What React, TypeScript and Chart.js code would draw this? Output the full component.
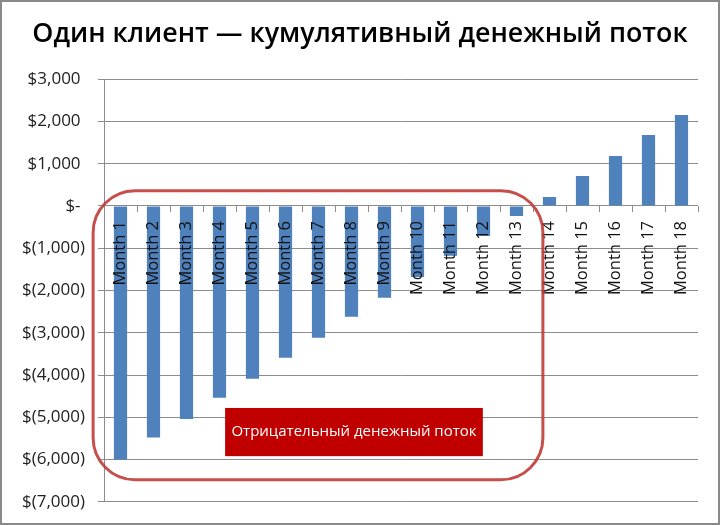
import { useEffect, useRef } from "react"
import { Chart, registerables } from "chart.js"

Chart.register(...registerables)

// Chart data
const months = [
  "Month 1", "Month 2", "Month 3", "Month 4", "Month 5", "Month 6",
  "Month 7", "Month 8", "Month 9", "Month 10", "Month 11", "Month 12",
  "Month 13", "Month 14", "Month 15", "Month 16", "Month 17", "Month 18",
]
const cumulativeCash = [
  -6000, -5480, -5040, -4540, -4090, -3590, -3120, -2620, -2170,
  -1680, -1180, -710, -240, 210, 710, 1180, 1680, 2150,
]
const chartTitle = "Один клиент — кумулятивный денежный поток"
const calloutText = "Отрицательный денежный поток"

// Annotation placement in data units (category index / dollars)
const zone = { x0: -0.83, x1: 12.8, yTop: 360, yBottom: -6480 }
const callout = { x0: 3.17, x1: 10.98, yTop: -4780, yBottom: -5920 }

const GRID = "#8c8c8c"

// Excel-style accounting labels: $3,000 / $- / $(1,000)
function accounting(v: number) {
  if (v === 0) return "$- "
  const abs = Math.abs(v).toLocaleString("en-US")
  return v < 0 ? `$(${abs})` : `$${abs} `
}

const annotationPlugin = {
  id: "annotations",
  beforeDraw(chart: Chart) {
    const { ctx, width, height } = chart
    ctx.save()
    ctx.fillStyle = "#ffffff"
    ctx.fillRect(0, 0, width, height)
    ctx.restore()
  },
  afterDraw(chart: Chart) {
    const { ctx, width, height } = chart
    const x = chart.scales.x
    const y = chart.scales.y
    ctx.save()

    // negative cash flow region
    const zx0 = x.getPixelForValue(zone.x0)
    const zx1 = x.getPixelForValue(zone.x1)
    const zy0 = y.getPixelForValue(zone.yTop)
    const zy1 = y.getPixelForValue(zone.yBottom)
    ctx.strokeStyle = "rgba(192, 60, 57, 0.9)"
    ctx.lineWidth = 3
    ctx.beginPath()
    ctx.roundRect(zx0, zy0, zx1 - zx0, zy1 - zy0, 42)
    ctx.stroke()

    // callout box
    const cx0 = x.getPixelForValue(callout.x0)
    const cx1 = x.getPixelForValue(callout.x1)
    const cy0 = y.getPixelForValue(callout.yTop)
    const cy1 = y.getPixelForValue(callout.yBottom)
    ctx.fillStyle = "#c00000"
    ctx.fillRect(cx0, cy0, cx1 - cx0, cy1 - cy0)
    ctx.fillStyle = "#ffffff"
    ctx.font = "500 15px 'Open Sans'"
    ctx.textAlign = "center"
    ctx.textBaseline = "middle"
    ctx.fillText(calloutText, (cx0 + cx1) / 2, (cy0 + cy1) / 2)

    // outer frame
    ctx.strokeStyle = "#8a8a8a"
    ctx.lineWidth = 2
    ctx.strokeRect(1, 1, width - 2, height - 2)
    ctx.restore()
  },
}

export default function App() {
  const canvasRef = useRef<HTMLCanvasElement>(null)
  const chartRef = useRef<Chart | null>(null)

  useEffect(() => {
    if (!canvasRef.current) return
    if (chartRef.current) chartRef.current.destroy()

    chartRef.current = new Chart(canvasRef.current, {
      type: "bar",
      data: {
        labels: months,
        datasets: [
          {
            data: cumulativeCash,
            backgroundColor: "#4f81bd",
            borderWidth: 0,
            categoryPercentage: 1,
            barPercentage: 0.4,
          },
        ],
      },
      options: {
        responsive: true,
        maintainAspectRatio: false,
        animation: false,
        layout: { padding: { left: 22, right: 22, top: 0, bottom: 23 } },
        plugins: {
          legend: { display: false },
          tooltip: { enabled: false },
          title: {
            display: true,
            text: chartTitle,
            color: "#000000",
            font: { family: "'Open Sans'", size: 26.8, weight: 600, lineHeight: 1.2 },
            padding: { top: 18, bottom: 29 },
          },
        },
        scales: {
          x: {
            type: "category",
            position: { y: 0 },
            offset: true,
            grid: {
              offset: true,
              drawOnChartArea: false,
              drawTicks: true,
              tickLength: 6,
              color: GRID,
              z: 1,
            },
            border: { display: true, color: GRID },
            ticks: {
              z: 2,
              autoSkip: false,
              minRotation: 90,
              maxRotation: 90,
              padding: 9,
              color: "#111111",
              font: { family: "'Open Sans'", size: 16.5 },
            },
          },
          y: {
            min: -7000,
            max: 3000,
            afterFit(scale) {
              scale.width = 82
            },
            grid: { color: GRID, drawTicks: true, tickLength: 6 },
            border: { display: true, color: GRID },
            ticks: {
              stepSize: 1000,
              padding: 13,
              color: "#222222",
              font: { family: "'Open Sans'", size: 17 },
              callback: (v) => accounting(Number(v)),
            },
          },
        },
      },
      plugins: [annotationPlugin],
    })

    return () => {
      if (chartRef.current) {
        chartRef.current.destroy()
        chartRef.current = null
      }
    }
  }, [])

  return (
    <div style={{ position: "absolute", left: 0, top: 0, width: 720, height: 525 }}>
      <canvas ref={canvasRef}></canvas>
    </div>
  )
}
